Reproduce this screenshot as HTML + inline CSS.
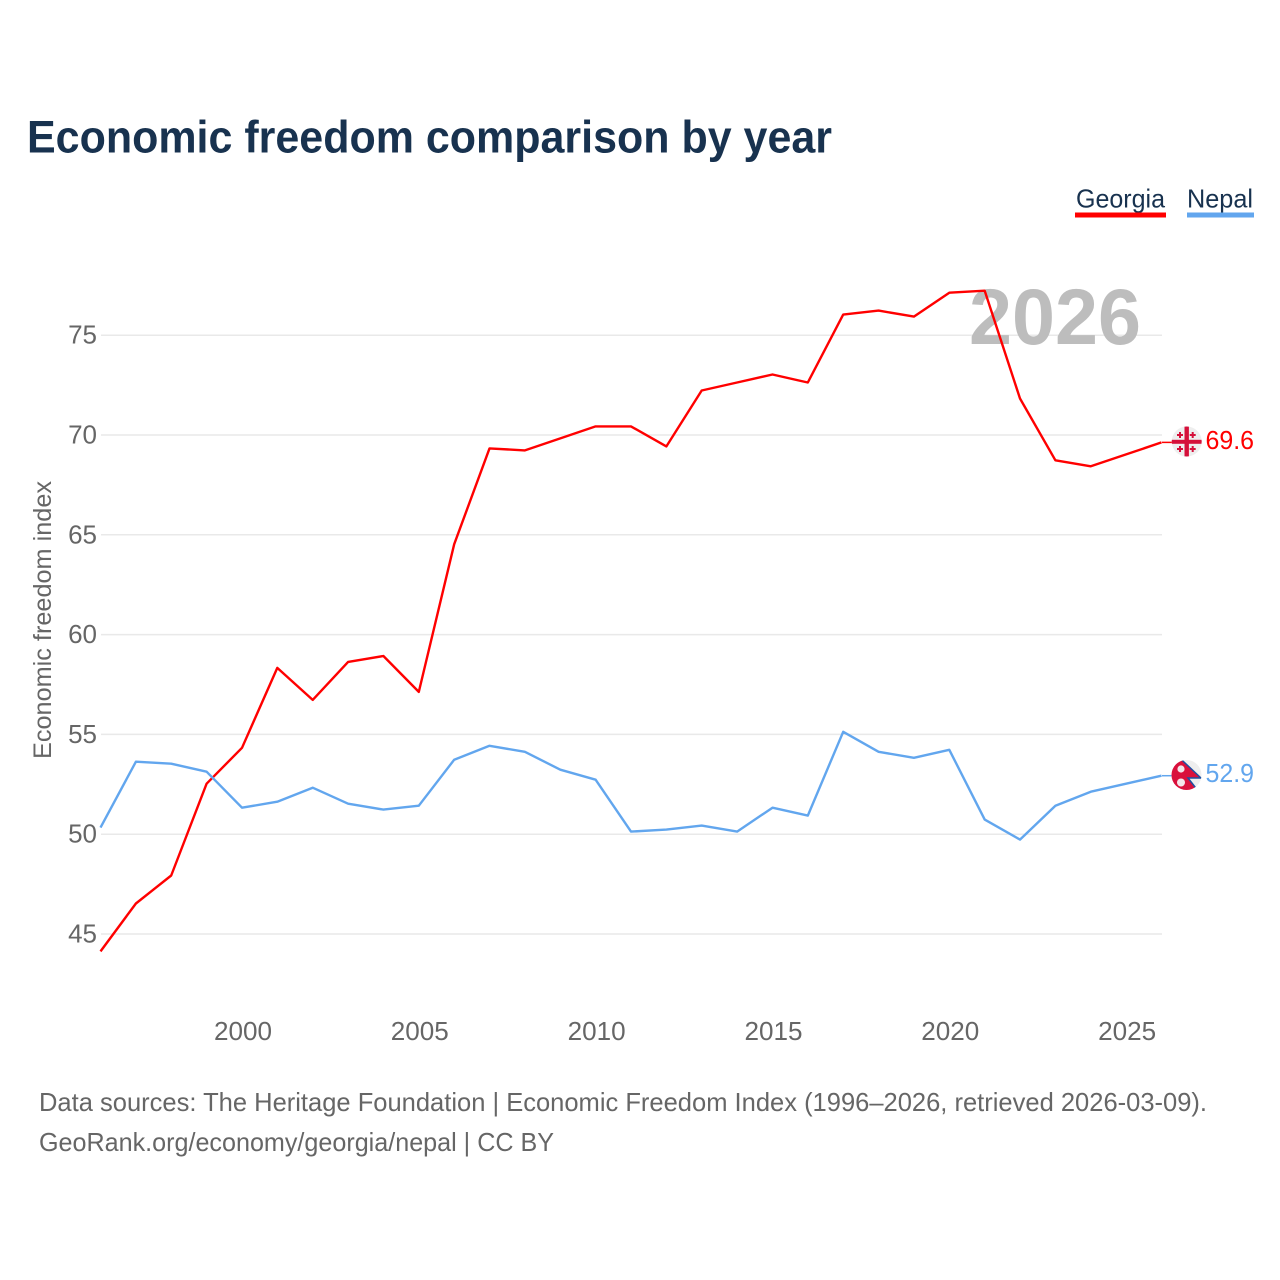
<!DOCTYPE html>
<html lang="en">
<head>
<meta charset="utf-8">
<title>Economic freedom comparison by year</title>
<style>
html,body{margin:0;padding:0;background:#fff;}
svg{display:block;font-family:"Liberation Sans",sans-serif;}
</style>
</head>
<body>
<svg id="chart" width="1280" height="1280" viewBox="0 0 1280 1280" xmlns="http://www.w3.org/2000/svg">
  <rect width="1280" height="1280" fill="#fff"/>
  <text x="27" y="152.500" font-size="45" font-weight="700" fill="#18324f" textLength="805" lengthAdjust="spacingAndGlyphs">Economic freedom comparison by year</text>
  <g id="grid"></g>
  <g id="yticks"></g>
  <g id="xticks"></g>
  <text transform="translate(51,759) rotate(-90)" font-size="25" fill="#666" textLength="278" lengthAdjust="spacingAndGlyphs">Economic freedom index</text>
  <text x="969" y="344" font-size="79" font-weight="700" fill="#bdbdbd" textLength="172" lengthAdjust="spacingAndGlyphs">2026</text>
  <g id="series"></g>

  <g>
    <text x="1076" y="207.500" font-size="26" fill="#18324f" textLength="89" lengthAdjust="spacingAndGlyphs">Georgia</text>
    <rect x="1075" y="212.500" width="91" height="5" fill="#ff0000"/>
  </g>
  <g>
    <text x="1187" y="207.500" font-size="26" fill="#18324f" textLength="66" lengthAdjust="spacingAndGlyphs">Nepal</text>
    <rect x="1187" y="212.500" width="67" height="5" fill="#62a6ee"/>
  </g>

  <g>
    <defs>
      <clipPath id="clipGe"><circle cx="1186.700" cy="441.500" r="15"/></clipPath>
      <clipPath id="clipNp"><circle cx="1186.500" cy="775" r="15"/></clipPath>
    </defs>
    <g clip-path="url(#clipGe)">
      <rect x="1171" y="426" width="31" height="31" fill="#eeeeee"/>
      <rect x="1184.500" y="426" width="4.400" height="31" fill="#d5103a"/>
      <rect x="1171" y="439.800" width="31" height="4" fill="#d5103a"/>
      <path d="M1179 432h2v2h2v2h-2v2h-2v-2h-2v-2h2zM1191.700 432h2v2h2v2h-2v2h-2v-2h-2v-2h2zM1179 446h2v2h2v2h-2v2h-2v-2h-2v-2h2zM1191.700 446h2v2h2v2h-2v2h-2v-2h-2v-2h2z" fill="#d5103a"/>
    </g>
  </g>
  <g>
    <g clip-path="url(#clipNp)">
      <rect x="1171" y="760" width="31" height="31" fill="#eeeeee"/>
      <path d="M1169 748L1201 778H1188L1199 792H1165V748Z" fill="#d9103c" stroke="#1d50a0" stroke-width="1.500"/>
      <circle cx="1181" cy="769" r="3.600" fill="#f3e6ea"/>
      <circle cx="1181" cy="782.500" r="4" fill="#f3e6ea"/>
    </g>
  </g>
  <g id="endLabels"></g>

  <text x="39" y="1111" font-size="26" fill="#666" textLength="1168" lengthAdjust="spacingAndGlyphs">Data sources: The Heritage Foundation | Economic Freedom Index (1996–2026, retrieved 2026-03-09).</text>
  <text x="39" y="1151" font-size="26" fill="#666" textLength="515" lengthAdjust="spacingAndGlyphs">GeoRank.org/economy/georgia/nepal | CC BY</text>
</svg>
<script>
const years = [1996,1997,1998,1999,2000,2001,2002,2003,2004,2005,2006,2007,2008,2009,2010,2011,2012,2013,2014,2015,2016,2017,2018,2019,2020,2021,2022,2023,2024,2025,2026];
const georgia = [44.1,46.5,47.9,52.5,54.3,58.3,56.7,58.6,58.9,57.1,64.5,69.3,69.2,69.8,70.4,70.4,69.4,72.2,72.6,73.0,72.6,76.0,76.2,75.9,77.1,77.2,71.8,68.7,68.4,69.0,69.6];
const nepal = [50.3,53.6,53.5,53.1,51.3,51.6,52.3,51.5,51.2,51.4,53.7,54.4,54.1,53.2,52.7,50.1,50.2,50.4,50.1,51.3,50.9,55.1,54.1,53.8,54.2,50.7,49.7,51.4,52.1,52.5,52.9];
const yTickValues = [45,50,55,60,65,70,75];
const xTickValues = [2000,2005,2010,2015,2020,2025];
const georgiaEndLabel = "69.6";
const nepalEndLabel = "52.9";

const NS = 'http://www.w3.org/2000/svg';
const plotLeft = 101, plotRight = 1162;
const xScale = v => plotLeft + (v - 1996) * (plotRight - plotLeft) / 30;
const yScale = v => 834.2 - (v - 50) * 19.96;
const lineDx = -0.5, lineDy = -0.6;

function make(tag, attrs, parent, text) {
  const el = document.createElementNS(NS, tag);
  for (const k in attrs) el.setAttribute(k, attrs[k]);
  if (text !== undefined) el.textContent = text;
  parent.appendChild(el);
  return el;
}

const gridG = document.getElementById('grid');
const yG = document.getElementById('yticks');
yTickValues.forEach(v => {
  const line = make('line', {x1: plotLeft, x2: plotRight, y1: yScale(v), y2: yScale(v), stroke: '#e9e9e9', 'stroke-width': 1.5}, gridG);
  
  
  const label = make('text', {x: 97, y: yScale(v) + 8.5, 'text-anchor': 'end', 'font-size': 26, fill: '#666'}, yG, String(v));
  
  
});

const xG = document.getElementById('xticks');
xTickValues.forEach(v => {
  const label = make('text', {x: xScale(v) + 0.5, y: 1040, 'text-anchor': 'middle', 'font-size': 26, fill: '#666', textLength: 58, lengthAdjust: 'spacingAndGlyphs'}, xG, String(v));
  
  
});

const seriesG = document.getElementById('series');
function drawSeries(values, color, name) {
  const pts = values.map((v, i) => (xScale(years[i]) + lineDx).toFixed(1) + ',' + (yScale(v) + lineDy).toFixed(1)).join(' ');
  const line = make('polyline', {points: pts, fill: 'none', stroke: color, 'stroke-width': 2.4, 'stroke-linejoin': 'round'}, seriesG);
  
  
  const lastY = yScale(values[values.length - 1]) + lineDy;
  const conn = make('line', {x1: plotRight, x2: plotRight + 10, y1: lastY, y2: lastY, stroke: color, 'stroke-width': 1.5}, seriesG);
  
  
}
drawSeries(georgia, '#ff0000', 'georgia');
drawSeries(nepal, '#62a6ee', 'nepal');

const endG = document.getElementById('endLabels');
const geLabel = make('text', {x: 1205.5, y: 449, 'font-size': 26, fill: '#ff0000', textLength: 48.5, lengthAdjust: 'spacingAndGlyphs'}, endG, georgiaEndLabel);


const npLabel = make('text', {x: 1205.5, y: 782, 'font-size': 26, fill: '#62a6ee', textLength: 48.5, lengthAdjust: 'spacingAndGlyphs'}, endG, nepalEndLabel);


</script>
</body>
</html>
